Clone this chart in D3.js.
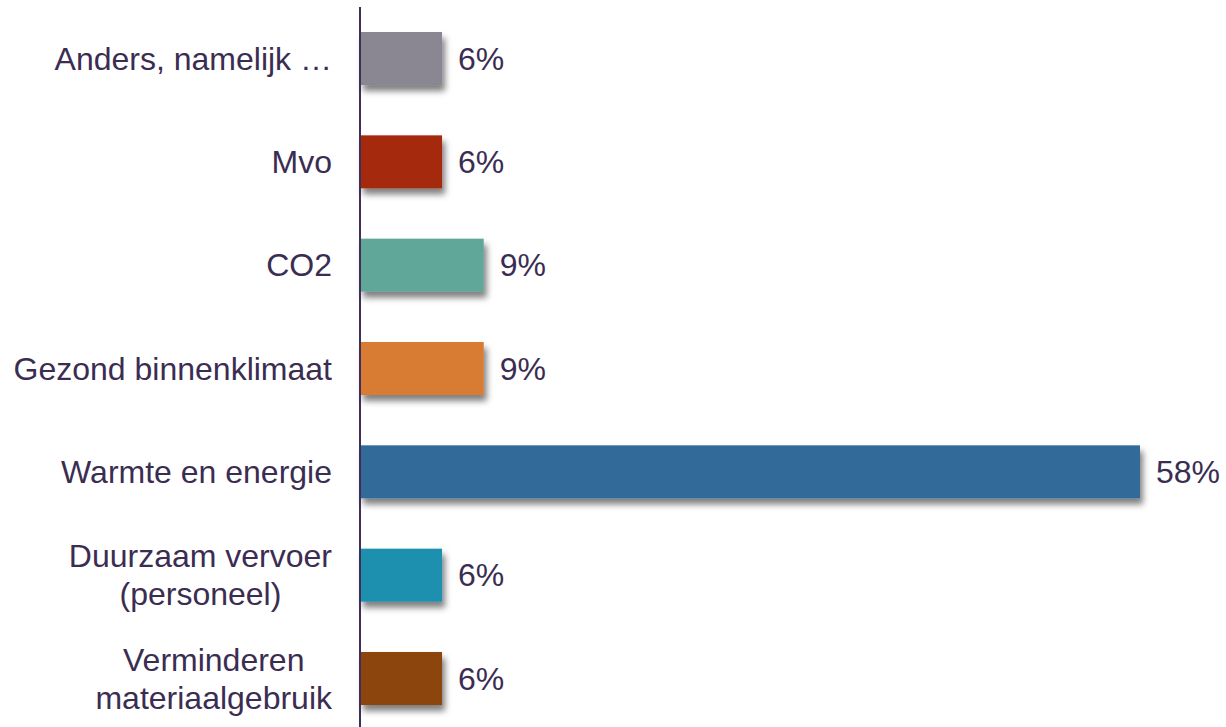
<!DOCTYPE html>
<html><head><meta charset="utf-8">
<script src="https://cdn.jsdelivr.net/npm/d3@7"></script>
<style>body{margin:0;background:#fff;} svg{display:block;} text{font-family:"Liberation Sans", Arial, Helvetica, sans-serif;}</style>
</head><body>
<svg id="chart" width="1226" height="727"></svg>
<script>
const categories = ["Anders, namelijk …", "Mvo", "CO2", "Gezond binnenklimaat", "Warmte en energie", "Duurzaam vervoer\n(personeel)", "Verminderen\nmateriaalgebruik"];
const values = [6.1, 6.1, 9.2, 9.2, 58.0, 6.1, 6.1];
const valueLabels = ["6%", "6%", "9%", "9%", "58%", "6%", "6%"];
const colors = ["#8a8692", "#a52a0b", "#60a799", "#d77c33", "#336a9a", "#1f90ae", "#8b4509"];

const svg = d3.select("#chart");
const axisX = 360, textColor = "#3b2d52", fs = 32;
const x = d3.scaleLinear().domain([0, 58]).range([axisX, 1140]);
const y = d3.scaleBand().domain(categories).range([7, 730]).paddingInner(0.487).paddingOuter(0.242);

const defs = svg.append("defs");
const f = defs.append("filter").attr("id","sh").attr("x","-10%").attr("y","-20%").attr("width","130%").attr("height","160%");
f.append("feDropShadow").attr("dx",3).attr("dy",6).attr("stdDeviation",3).attr("flood-color","#000").attr("flood-opacity",0.5);

svg.selectAll("rect.bar").data(categories).enter().append("rect")
  .attr("class","bar")
  .attr("x", x(0))
  .attr("y", d => y(d))
  .attr("width", (d,i) => x(values[i]) - x(0))
  .attr("height", y.bandwidth())
  .attr("fill", (d,i) => colors[i])
  .attr("filter","url(#sh)");

svg.selectAll("text.val").data(categories).enter().append("text")
  .attr("class","val")
  .attr("x", (d,i) => x(values[i]) + 16)
  .attr("y", d => y(d) + y.bandwidth()/2)
  .attr("dy","0.35em")
  .attr("font-size", fs)
  .attr("fill", textColor)
  .text((d,i) => valueLabels[i]);

const labelRight = 332, lineH = 38;
categories.forEach(c => {
  const lines = c.split("\n");
  const cy = y(c) + y.bandwidth()/2;
  const g = svg.append("text")
    .attr("font-size", fs)
    .attr("fill", textColor);
  const tspans = lines.map((l, k) => g.append("tspan").text(l)
      .attr("y", cy + (k - (lines.length-1)/2) * lineH).attr("dy","0.35em"));
  if (lines.length === 1) {
    g.attr("text-anchor","end");
    tspans[0].attr("x", labelRight);
  } else {
    const maxW = d3.max(tspans, t => t.node().getComputedTextLength());
    g.attr("text-anchor","middle");
    tspans.forEach(t => t.attr("x", labelRight - maxW/2));
  }
});

svg.append("line").attr("x1",axisX).attr("x2",axisX).attr("y1",7).attr("y2",727)
  .attr("stroke","#3d2f57").attr("stroke-width",2);
</script>
</body></html>
